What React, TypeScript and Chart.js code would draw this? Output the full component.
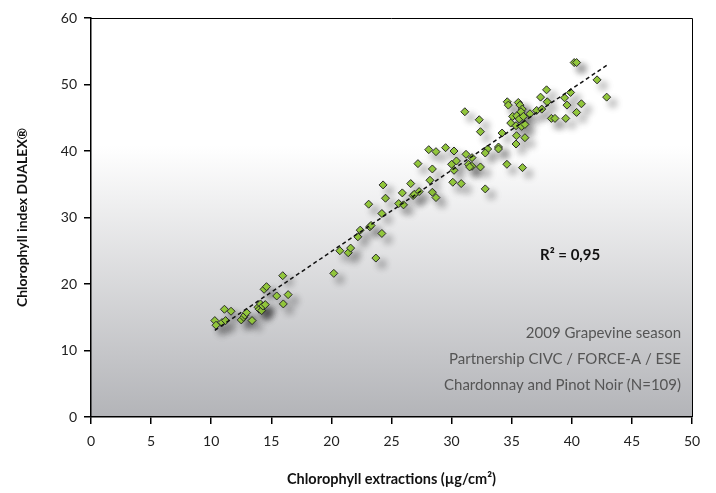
import React, { useEffect, useRef } from "react";
import { Chart, registerables } from "chart.js";

Chart.register(...registerables);

// Chlorophyll extractions (µg/cm²)
const extraction: number[] = [
  10.3, 10.4, 10.9, 11.2, 11.1, 11.65, 12.5, 12.7, 12.8, 12.95, 13.4, 13.9, 14.0, 14.1, 14.2, 14.3, 14.5, 14.4, 14.6, 15.45, 16.0, 16.4, 15.95,
  20.2, 20.7, 21.4, 21.6, 22.2, 22.4, 23.2, 23.3, 23.7, 24.2, 23.1, 24.2, 24.5, 24.3, 25.6, 26.0, 25.9, 26.6, 26.8, 26.9, 27.3, 27.2, 28.4, 28.4, 28.7, 28.2, 28.1, 28.7, 29.5,
  30.2, 30.0, 30.4, 30.2, 30.1, 30.8, 31.2, 31.7, 31.4, 31.7, 31.5, 32.4, 32.8, 33.0, 32.8, 31.1, 32.3, 32.4, 34.6, 35.9,
  34.63, 34.72, 35.55, 35.69, 35.88, 35.77, 35.08, 35.42, 35.63, 35.97, 34.92, 35.36, 35.83, 36.1, 36.52, 37.08, 37.5, 37.4, 37.96, 34.2, 35.4, 36.1, 35.36, 33.9, 33.9,
  37.9, 39.9, 39.4, 40.8, 39.6, 40.4, 38.3, 38.6, 39.5, 40.2, 40.4, 42.1, 42.9,
];

// Chlorophyll index DUALEX®
const dualex: number[] = [
  14.5, 13.8, 14.2, 14.5, 16.2, 15.9, 14.6, 15.0, 15.3, 15.7, 14.5, 16.5, 16.2, 17.0, 16.0, 16.7, 16.9, 19.2, 19.6, 18.2, 17.0, 18.4, 21.25,
  21.6, 25.0, 24.7, 25.4, 27.1, 28.1, 28.6, 28.8, 23.9, 27.6, 32.0, 30.6, 32.9, 34.9, 32.1, 31.9, 33.7, 35.1, 33.3, 33.5, 33.9, 38.1, 37.3, 33.8, 33.0, 35.6, 40.2, 39.9, 40.5,
  40.0, 38.0, 38.5, 37.1, 35.3, 35.1, 39.5, 39.0, 38.0, 37.7, 37.6, 37.6, 34.3, 40.3, 39.7, 45.9, 44.7, 42.9, 38.0, 37.5,
  47.4, 46.9, 47.3, 46.9, 46.3, 45.9, 45.2, 45.3, 44.8, 45.2, 44.2, 43.8, 43.7, 44.0, 45.6, 46.1, 46.3, 48.1, 47.4, 42.7, 42.3, 42.0, 41.05, 40.6, 40.3,
  49.2, 48.8, 48.0, 47.1, 46.9, 45.8, 44.9, 44.9, 44.9, 53.3, 53.3, 50.7, 48.1,
];

const xTitle = "Chlorophyll extractions (µg/cm²)";
const yTitle = "Chlorophyll index DUALEX®";
const r2Label = "R² = 0,95";
const noteLines: string[] = [
  "2009 Grapevine season",
  "Partnership CIVC / FORCE-A / ESE",
  "Chardonnay and Pinot Noir (N=109)",
];

function regression(xs: number[], ys: number[]) {
  const n = xs.length;
  let sx = 0, sy = 0, sxx = 0, sxy = 0;
  for (let i = 0; i < n; i++) {
    sx += xs[i]; sy += ys[i]; sxx += xs[i] * xs[i]; sxy += xs[i] * ys[i];
  }
  const slope = (n * sxy - sx * sy) / (n * sxx - sx * sx);
  const intercept = (sy - slope * sx) / n;
  return { slope, intercept };
}

const FONT = "Lato, 'Open Sans', sans-serif";

export default function App() {
  const ref = useRef<HTMLCanvasElement | null>(null);

  useEffect(() => {
    if (!ref.current) return;
    const points = extraction.map((x, i) => ({ x, y: dualex[i] }));
    const { slope, intercept } = regression(extraction, dualex);
    const xmin = Math.min(...extraction);
    const xmax = Math.max(...extraction);
    const trend = [
      { x: xmin, y: slope * xmin + intercept },
      { x: xmax, y: slope * xmax + intercept },
    ];

    const bgPlugin = {
      id: "bg",
      beforeDraw(chart: any) {
        const { ctx, chartArea } = chart;
        const { left, top, right, bottom } = chartArea;
        const g = ctx.createLinearGradient(0, top, 0, bottom);
        g.addColorStop(0, "#ffffff");
        g.addColorStop(0.32, "#ffffff");
        g.addColorStop(1, "#b3b4b8");
        ctx.save();
        ctx.fillStyle = g;
        ctx.fillRect(left, top, right - left, bottom - top);
        ctx.restore();
      },
    };

    const shadowPlugin = {
      id: "shadow",
      beforeDatasetDraw(chart: any, args: any) {
        if (args.index !== 1) return;
        const ctx = chart.ctx;
        ctx.save();
        ctx.shadowColor = "rgba(0,0,0,0.4)";
        ctx.shadowBlur = 7;
        ctx.shadowOffsetX = 6;
        ctx.shadowOffsetY = 6;
      },
      afterDatasetDraw(chart: any, args: any) {
        if (args.index !== 1) return;
        chart.ctx.restore();
      },
    };

    const framePlugin = {
      id: "frame",
      afterDraw(chart: any) {
        const { ctx, chartArea } = chart;
        const { left, top, right, bottom } = chartArea;
        ctx.save();
        ctx.strokeStyle = "#000";
        ctx.lineWidth = 1;
        ctx.beginPath();
        ctx.moveTo(left, top + 0.5);
        ctx.lineTo(right + 0.5, top + 0.5);
        ctx.lineTo(right + 0.5, bottom);
        ctx.stroke();
        // R² label
        ctx.fillStyle = "#111";
        ctx.font = `bold 15px ${FONT}`;
        ctx.textBaseline = "middle";
        ctx.textAlign = "left";
        ctx.fillText(r2Label, left + 449, top + 237);
        // notes
        ctx.fillStyle = "#555";
        ctx.font = `15px ${FONT}`;
        ctx.textAlign = "right";
        noteLines.forEach((t, i) => {
          ctx.fillText(t, right - 11, top + 315 + i * 26);
        });
        ctx.restore();
      },
    };

    const chart = new Chart(ref.current, {
      type: "scatter",
      data: {
        datasets: [
          {
            type: "line",
            data: trend,
            borderColor: "#111",
            borderWidth: 1.5,
            borderDash: [4, 3],
            pointRadius: 0,
            fill: false,
          } as any,
          {
            data: points,
            pointStyle: "rectRot",
            pointRadius: 4,
            backgroundColor: "#93c83c",
            borderColor: "#2b2b2b",
            borderWidth: 1,
          },
        ],
      },
      options: {
        animation: false,
        responsive: false,
        devicePixelRatio: 1,
        layout: { padding: { top: 18, right: 24, left: 0, bottom: 0 } },
        plugins: { legend: { display: false }, tooltip: { enabled: false } },
        scales: {
          x: {
            type: "linear",
            min: 0,
            max: 50,
            ticks: { stepSize: 5, color: "#222", font: { family: FONT, size: 14 }, padding: 9 },
            grid: { drawOnChartArea: false, drawTicks: true, tickLength: 7, color: "#000", lineWidth: 1.5 },
            border: { color: "#000", width: 1.5 },
            title: {
              display: true,
              text: xTitle,
              color: "#111",
              font: { family: FONT, size: 14.5, weight: "bold" },
              padding: { top: 0, bottom: 5 },
            },
            afterFit: (s: any) => { s.height = 76; },
          },
          y: {
            type: "linear",
            min: 0,
            max: 60,
            ticks: { stepSize: 10, color: "#222", font: { family: FONT, size: 14 }, padding: 7 },
            grid: { drawOnChartArea: false, drawTicks: true, tickLength: 7, color: "#000", lineWidth: 1.5 },
            border: { color: "#000", width: 1.5 },
            title: {
              display: true,
              text: yTitle,
              color: "#111",
              font: { family: FONT, size: 14, weight: "bold" },
              padding: { top: 14, bottom: 0 },
            },
            afterFit: (s: any) => { s.width = 91; },
          },
        },
      },
      plugins: [bgPlugin, shadowPlugin, framePlugin],
    });
    return () => chart.destroy();
  }, []);

  return (
    <div style={{ position: "fixed", left: 0, top: 0, width: 716, height: 493, background: "#fff" }}>
      <canvas ref={ref} width={716} height={493} style={{ width: 716, height: 493, display: "block" }} />
    </div>
  );
}
